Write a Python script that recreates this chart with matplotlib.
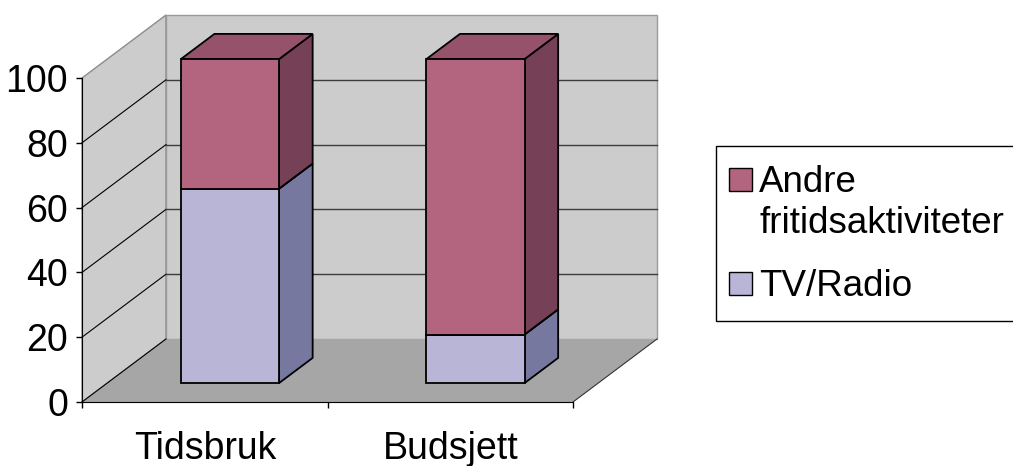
import matplotlib
matplotlib.use('Agg')
import matplotlib.pyplot as plt
from matplotlib.patches import Polygon, Rectangle

#---    Data
categories = ['Tidsbruk', 'Budsjett']
tv_radio = [60, 15]
andre = [40, 85]
series_names = ['Andre\nfritidsaktiviteter', 'TV/Radio']
yticks = [0, 20, 40, 60, 80, 100]

#---    Style
front_col = {'tv': '#B9B5D6', 'andre': '#B3647F'}
side_col = {'tv': '#7778A0', 'andre': '#764056'}
top_col = {'tv': '#9A97C0', 'andre': '#96526B'}
wall_col = '#CCCCCC'
floor_col = '#A6A6A6'
fs_ticks = 27
fs_legend = 26.5

plt.rcParams['font.family'] = ['Liberation Sans', 'DejaVu Sans']

W, H = 1013, 466
fig = plt.figure(figsize=(W / 100, H / 100), dpi=100)
ax = fig.add_axes([82 / W, 64 / H, 491 / W, 324 / H])
ax.set_xlim(0, len(categories))
ax.set_ylim(0, 100)
ax.set_facecolor('none')

# oblique depth: full depth shifts (84 px right, 63 px up)
DX = 84 / 245.5
DY = 63 / 3.24


def proj(x, v, d):
    return (x + DX * d, v + DY * d)


def face(pts, fc, ec='none', lw=1.0, z=1):
    ax.add_patch(Polygon(pts, closed=True, facecolor=fc, edgecolor=ec,
                         linewidth=lw, zorder=z, clip_on=False))


ncat = len(categories)
#---    Walls and floor
face([proj(0, 0, 0), proj(0, 100, 0), proj(0, 100, 1), proj(0, 0, 1)], wall_col, '#8C8C8C', 1.0, 0)
face([proj(0, 0, 1), proj(ncat, 0, 1), proj(ncat, 100, 1), proj(0, 100, 1)], wall_col, '#9A9A9A', 1.0, 0)
face([proj(0, 0, 0), proj(ncat, 0, 0), proj(ncat, 0, 1), proj(0, 0, 1)], floor_col, 'none', 1.0, 0)
x0, y0 = proj(ncat, 0, 0)
x1, y1 = proj(ncat, 0, 1)
ax.plot([x0, x1], [y0, y1], color='#333333', lw=0.8, zorder=0.5, clip_on=False)

for v in yticks:
    if v == 100:
        continue
    a = proj(0, v, 0)
    b = proj(0, v, 1)
    ax.plot([a[0], b[0]], [a[1], b[1]], color='black', lw=0.8, zorder=0.5, clip_on=False)
    if v > 0:
        c = proj(ncat, v, 1)
        ax.plot([b[0], c[0]], [b[1], c[1]], color='#3C3C3C', lw=1.0, zorder=0.5, clip_on=False)

#---    Bars
half_w = 0.2
d0, d1 = 0.3, 0.7
for i in range(ncat):
    xl = i + 0.5 - half_w
    xr = i + 0.5 + half_w
    base = 0
    for key, vals in [('tv', tv_radio), ('andre', andre)]:
        top = base + vals[i]
        face([proj(xr, base, d0), proj(xr, top, d0), proj(xr, top, d1), proj(xr, base, d1)],
             side_col[key], 'black', 1.3, 2)
        face([proj(xl, top, d0), proj(xr, top, d0), proj(xr, top, d1), proj(xl, top, d1)],
             top_col[key], 'black', 1.3, 2)
        face([proj(xl, base, d0), proj(xr, base, d0), proj(xr, top, d0), proj(xl, top, d0)],
             front_col[key], 'black', 1.3, 3)
        base = top

#---    Axes
for s in ['top', 'right']:
    ax.spines[s].set_visible(False)
ax.spines['left'].set_zorder(4)
ax.spines['bottom'].set_zorder(4)
ax.set_yticks(yticks)
ax.tick_params(axis='y', direction='out', length=4, width=1, labelsize=fs_ticks, pad=6)
ax.set_xticks(range(ncat + 1))
ax.set_xticklabels([])
ax.set_xticks([i + 0.5 for i in range(ncat)], minor=True)
ax.set_xticklabels(categories, minor=True)
ax.tick_params(axis='x', which='major', direction='out', length=4, width=1)
ax.tick_params(axis='x', which='minor', length=0, labelsize=fs_ticks, pad=21)

#---    Legend (drawn by hand, figure pixels)
def fx(x):
    return x / W


def fy(y):
    return 1 - y / H


fig.add_artist(Rectangle((fx(716), fy(321)), fx(1030) - fx(716), fy(146) - fy(321),
                         transform=fig.transFigure, facecolor='white', edgecolor='black', lw=1.0))
leg_cols = [front_col['andre'], front_col['tv']]
leg_tops = [168, 272]
for name, col, ty in zip(series_names, leg_cols, leg_tops):
    fig.add_artist(Rectangle((fx(729), fy(ty + 23)), fx(23), 23 / H, transform=fig.transFigure,
                             facecolor=col, edgecolor='black', lw=1.0))
    for k, line in enumerate(name.split('\n')):
        fig.text(fx(759), fy(ty + 24 + 41 * k), line, fontsize=fs_legend, va='baseline', ha='left')

fig.savefig('out.png', dpi=100)
